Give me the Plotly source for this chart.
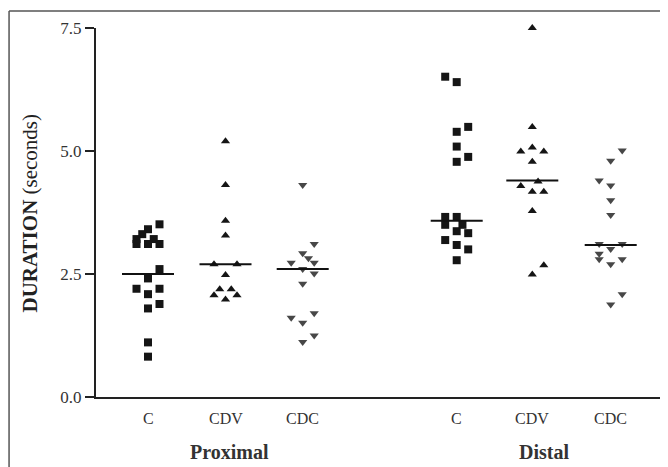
import plotly.graph_objects as go

# ---------------- data ----------------
groups = ["Proximal", "Distal"]
categories = ["C", "CDV", "CDC", "C", "CDV", "CDC"]

prox_c = [3.51, 3.41, 3.31, 3.21, 3.21, 3.11, 3.11, 3.11, 2.60, 2.41, 2.20, 2.20, 2.09, 1.89, 1.80, 1.11, 0.82]
prox_cdv = [5.20, 4.31, 3.58, 3.28, 2.70, 2.70, 2.48, 2.19, 2.19, 2.07, 2.07, 1.98]
prox_cdc = [4.31, 3.11, 2.92, 2.82, 2.73, 2.73, 2.60, 2.51, 2.30, 1.70, 1.61, 1.51, 1.25, 1.12]
dist_c = [6.51, 6.40, 5.49, 5.39, 5.09, 4.88, 4.78, 3.66, 3.66, 3.50, 3.50, 3.37, 3.33, 3.19, 3.09, 3.00, 2.78]
dist_cdv = [7.50, 5.49, 5.07, 4.99, 4.99, 4.78, 4.38, 4.29, 4.17, 4.17, 3.78, 2.68, 2.49]
dist_cdc = [5.01, 4.80, 4.40, 4.30, 4.00, 3.70, 3.11, 3.11, 3.01, 2.91, 2.80, 2.80, 2.70, 2.09, 1.88]

means = [2.50, 2.70, 2.60, 3.58, 4.40, 3.09]

y_tick_vals = [0, 2.5, 5.0, 7.5]
y_tick_text = ["0.0", "2.5", "5.0", "7.5"]

# ---------------- layout (positions / jitter) ----------------
centers = [148, 225.5, 302.7, 456.7, 532.3, 610.7]
group_centers = [229, 544]
step = 11.5
jit = [
    [1, 0, -0.5, -1, 0.5, -1, 0, 1, 1, 0, -1, 1, 0, 1, 0, 0, 0],
    [0, 0, 0, 0, -1, 1, 0, -0.5, 0.5, -1, 1, 0],
    [0, 1, 0, 0.5, -1, 1, 0, 1, 0, 1, -1, 0, 1, 0],
    [-1, 0, 1, 0, 0, 1, 0, -1, 0, -1, 0.5, 0, 1, -1, 0, 1, 0],
    [0, 0, 0, -1, 1, 0, 0.5, -1, 0, 1, 0, 1, 0],
    [1, 0, -1, 0, 0, 0, -1, 1, 0, -1, -1, 1, 0, 1, 0],
]
series = [prox_c, prox_cdv, prox_cdc, dist_c, dist_cdv, dist_cdc]
symbols = ["square", "triangle-up", "triangle-down"] * 2
sizes = [8, 8, 8, 8, 8, 8]
colors = ["#151515", "#151515", "#474747"] * 2

SERIF = "Liberation Serif, Times New Roman, serif"

fig = go.Figure()
for i, vals in enumerate(series):
    xs = [centers[i] + j * step for j in jit[i]]
    fig.add_trace(go.Scatter(
        x=xs, y=vals, mode="markers",
        marker=dict(symbol=symbols[i], size=sizes[i], color=colors[i], line=dict(width=0)),
        cliponaxis=False, showlegend=False, hoverinfo="y"))
    fig.add_trace(go.Scatter(
        x=[centers[i] - 26, centers[i] + 26], y=[means[i], means[i]], mode="lines",
        line=dict(color="#111", width=2), showlegend=False, hoverinfo="skip"))

# page body has an 8px margin, so the figure is 8px smaller and shifted
fig.update_layout(
    width=660, height=459,
    margin=dict(l=88, r=0, t=20, b=70),
    paper_bgcolor="white", plot_bgcolor="white",
    xaxis=dict(range=[96, 668], showgrid=False, zeroline=False, showline=True,
               linecolor="#222", linewidth=2, showticklabels=False, ticks=""),
    yaxis=dict(range=[0, 7.5], showgrid=False, zeroline=False, showline=True,
               linecolor="#222", linewidth=2, ticks="outside", ticklen=9, tickwidth=2,
               tickcolor="#222", tickvals=y_tick_vals, ticktext=y_tick_text,
               tickfont=dict(family=SERIF, size=17, color="#333")),
)

annotations = []
for c, lab in zip(centers, categories):
    annotations.append(dict(x=c, y=-0.057, xref="x", yref="paper", text=lab, showarrow=False,
                            font=dict(family=SERIF, size=16, color="#333"),
                            xanchor="center", yanchor="middle"))
for c, g in zip(group_centers, groups):
    annotations.append(dict(x=c, y=-0.149, xref="x", yref="paper", text="<b>" + g + "</b>",
                            showarrow=False, font=dict(family=SERIF, size=20, color="#333"),
                            xanchor="center", yanchor="middle"))
annotations.append(dict(x=-0.1154, y=0.5, xref="paper", yref="paper",
                        text="<b>DURATION</b> (seconds)", textangle=-90, showarrow=False,
                        font=dict(family=SERIF, size=21, color="#222"),
                        xanchor="center", yanchor="middle"))
fig.update_layout(annotations=annotations)

# outer frame (left and top edges visible)
fig.add_shape(type="line", xref="paper", yref="paper", x0=-0.152, x1=-0.152, y0=1.046, y1=-0.25,
              line=dict(color="#555", width=1.5))
fig.add_shape(type="line", xref="paper", yref="paper", x0=-0.152, x1=1.05, y0=1.046, y1=1.046,
              line=dict(color="#555", width=1.5))

fig.write_html("out.html")
